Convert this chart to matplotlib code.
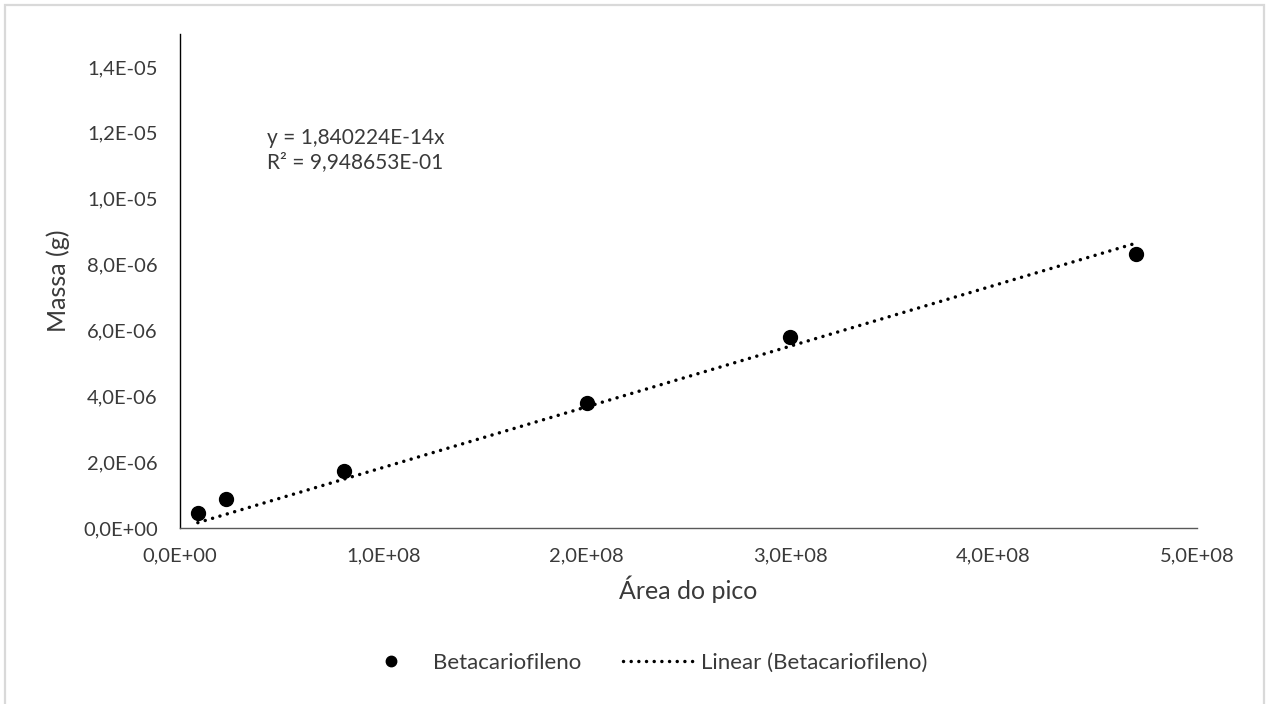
import numpy as np
import matplotlib.pyplot as plt
from matplotlib.patches import Rectangle

# dados (área do pico x massa)
area = [8.8e6, 2.26e7, 8.06e7, 2.0e8, 3.0e8, 4.70e8]
massa = [0.45e-6, 0.88e-6, 1.74e-6, 3.80e-6, 5.80e-6, 8.33e-6]
slope = 1.840224e-14
r2_txt = "9,948653E-01"

xticks = [0, 1e8, 2e8, 3e8, 4e8, 5e8]
xlabels = ["0,0E+00", "1,0E+08", "2,0E+08", "3,0E+08", "4,0E+08", "5,0E+08"]
yticks = [0, 2e-6, 4e-6, 6e-6, 8e-6, 1e-5, 1.2e-5, 1.4e-5]
ylabels = ["0,0E+00", "2,0E-06", "4,0E-06", "6,0E-06", "8,0E-06", "1,0E-05", "1,2E-05", "1,4E-05"]

plt.rcParams['font.family'] = ['Lato', 'DejaVu Sans']
txt = '#3a3a3a'

fig = plt.figure(figsize=(12.7, 7.04), dpi=100)
ax = fig.add_axes([0.1417, 0.25, 0.8008, 0.7017])

ax.plot(area, massa, 'o', color='black', markersize=10, label='Betacariofileno', zorder=3)

xl = np.array([min(area), max(area)])
ax.plot(xl, slope * xl, color='black', linewidth=2.5, dash_capstyle='round',
        linestyle=(0, (0.01, 2.2)), label='Linear (Betacariofileno)', zorder=2)

ax.set_xlim(0, 5e8)
ax.set_ylim(0, 1.5e-5)
ax.set_xticks(xticks)
ax.set_xticklabels(xlabels)
ax.set_yticks(yticks)
ax.set_yticklabels(ylabels)
ax.tick_params(length=0, labelsize=14.5, colors=txt)
ax.tick_params(axis='y', pad=16)
ax.tick_params(axis='x', pad=14)

for s in ['top', 'right']:
    ax.spines[s].set_visible(False)
ax.spines['left'].set_color('black')
ax.spines['left'].set_linewidth(1.0)
ax.spines['bottom'].set_color('#595959')
ax.spines['bottom'].set_linewidth(1.0)

ax.set_xlabel('Área do pico', fontsize=18, color=txt, labelpad=8)
ax.set_ylabel('Massa (g)', fontsize=18, color=txt)
ax.yaxis.set_label_coords(-0.108, 0.5)

ax.text(0.086, 0.765, "y = 1,840224E-14x\nR² = " + r2_txt, transform=ax.transAxes,
        fontsize=15, color=txt, va='center', ha='left', linespacing=1.3)

fig.legend(loc='center', bbox_to_anchor=(0.505, 0.058), ncol=2, frameon=False,
           fontsize=16, labelcolor=txt, columnspacing=1.9, handlelength=3.2,
           handletextpad=0.3, markerscale=0.75)

# borda da área do gráfico
fig.patches.append(Rectangle((5 / 1270, -0.05), 1259 / 1270, 1.05 - 5 / 704,
                             transform=fig.transFigure, fill=False,
                             edgecolor='#d9d9d9', linewidth=1.6))

fig.savefig('out.png', dpi=100)
